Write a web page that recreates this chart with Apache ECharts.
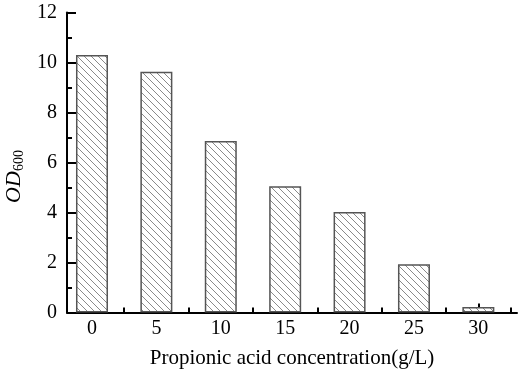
<!DOCTYPE html>
<html>
<head>
<meta charset="utf-8">
<script src="https://cdn.jsdelivr.net/npm/echarts@6/dist/echarts.min.js"></script>
<style>
  html, body { margin: 0; padding: 0; background: #fff; }
  #chart { width: 522px; height: 378px; }
</style>
</head>
<body>
<div id="chart"></div>
<script>
var concentrations = [0, 5, 10, 15, 20, 25, 30];
var od600 = [10.3, 9.63, 6.86, 5.05, 4.02, 1.93, 0.22];
var majorTicks = [0, 5, 10, 15, 20, 25, 30];
var minorTicks = [2.5, 7.5, 12.5, 17.5, 22.5, 27.5, 32.5];

// diagonal hatch "\\\" for the bars
function makeHatch() {
    var c = document.createElement('canvas');
    var s = 7;
    c.width = s;
    c.height = s;
    var ctx = c.getContext('2d');
    ctx.fillStyle = '#fff';
    ctx.fillRect(0, 0, s, s);
    ctx.strokeStyle = '#8a8a8a';
    ctx.lineWidth = 1;
    ctx.beginPath();
    ctx.moveTo(-1, -1); ctx.lineTo(s + 1, s + 1);
    ctx.moveTo(-1, s - 1); ctx.lineTo(1, s + 1);
    ctx.moveTo(s - 1, -1); ctx.lineTo(s + 1, 1);
    ctx.stroke();
    return c;
}

function initChart() {
    var dom = document.getElementById('chart');
    var myChart = echarts.init(dom);
    var font = 'Liberation Serif';

    var data = [];
    for (var i = 0; i < concentrations.length; i++) {
        data.push([concentrations[i], od600[i]]);
    }

    var option = {
        animation: false,
        backgroundColor: '#fff',
        textStyle: { fontFamily: font, color: '#000' },
        grid: { left: 67, right: 5, top: 12.5, bottom: 65.5, containLabel: false, outerBoundsMode: 'none' },
        xAxis: [{
            type: 'value',
            min: -1.94,
            max: 33,
            position: 'bottom',
            name: 'Propionic acid concentration(g/L)',
            nameLocation: 'middle',
            nameGap: 35,
            nameTextStyle: { fontFamily: font, fontSize: 21, color: '#000' },
            axisLine: { show: true, onZero: false, lineStyle: { color: '#000', width: 2 } },
            axisTick: { show: true, inside: true, length: 9, customValues: majorTicks, lineStyle: { color: '#000', width: 2 } },
            axisLabel: { show: true, customValues: majorTicks, margin: 6, fontFamily: font, fontSize: 20, color: '#000' },
            splitLine: { show: false }
        }, {
            type: 'value',
            min: -1.94,
            max: 33,
            position: 'bottom',
            offset: 0,
            axisLine: { show: false, onZero: false },
            axisTick: { show: true, inside: true, length: 5, customValues: minorTicks, lineStyle: { color: '#000', width: 2 } },
            axisLabel: { show: false },
            splitLine: { show: false }
        }],
        yAxis: {
            type: 'value',
            min: 0,
            max: 12,
            interval: 2,
            name: '{i|OD}{s|600}',
            nameLocation: 'middle',
            nameRotate: 90,
            nameGap: 37,
            nameTextStyle: {
                padding: [0, 28, 0, 0],
                rich: {
                    i: { fontFamily: font, fontStyle: 'italic', fontSize: 22, color: '#000' },
                    s: { fontFamily: font, fontSize: 14, color: '#000', verticalAlign: 'bottom', padding: [9, 0, 0, 0] }
                }
            },
            axisLine: { show: true, onZero: false, lineStyle: { color: '#000', width: 2 } },
            axisTick: { show: true, inside: true, length: 9, lineStyle: { color: '#000', width: 2 } },
            minorTick: { show: true, splitNumber: 2, length: 5, lineStyle: { color: '#000', width: 2 } },
            axisLabel: { margin: 10, fontFamily: font, fontSize: 20, color: '#000' },
            splitLine: { show: false },
            minorSplitLine: { show: false }
        },
        series: [{
            type: 'bar',
            xAxisIndex: 0,
            data: data,
            barWidth: 32,
            itemStyle: {
                color: { image: makeHatch(), repeat: 'repeat' },
                borderColor: '#555',
                borderWidth: 1.5
            }
        }]
    };
    myChart.setOption(option, true);
}
initChart();
</script>
</body>
</html>
